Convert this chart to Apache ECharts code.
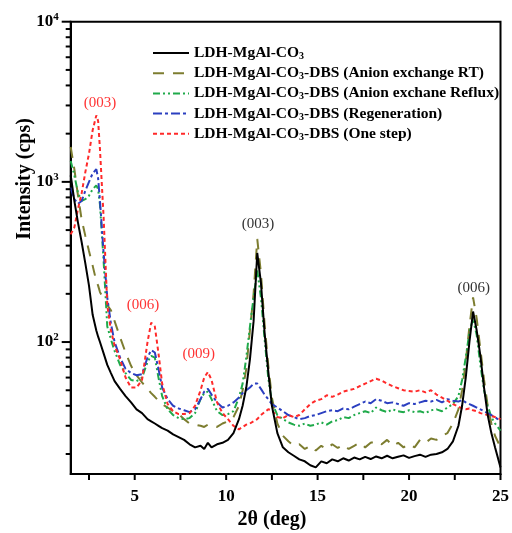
<!DOCTYPE html>
<html><head><meta charset="utf-8">
<script src="https://cdn.jsdelivr.net/npm/echarts@6/dist/echarts.min.js"></script>
<style>html,body{margin:0;padding:0;background:#fff}#c{width:512px;height:533px}</style>
</head><body><div id="c"></div>
<script>
const xs = [1.5,1.7,1.9,2.1,2.3,2.5,2.7,2.9,3.0,3.1,
3.3,3.5,3.7,3.9,4.2,4.5,4.8,5.1,5.4,5.7,
5.9,6.1,6.3,6.5,6.8,7.1,7.4,7.7,8.0,8.3,
8.6,8.8,9.0,9.2,9.5,9.8,10.1,10.4,10.7,10.9,
11.1,11.3,11.5,11.7,11.9,12.1,12.3,12.5,12.8,13.1,
13.4,13.7,14.0,14.3,14.6,14.9,15.2,15.5,15.8,16.1,
16.4,16.7,17.0,17.3,17.6,17.9,18.2,18.5,18.8,19.1,
19.4,19.7,20.0,20.3,20.6,20.9,21.2,21.5,21.8,22.1,
22.4,22.7,22.9,23.1,23.3,23.5,23.7,23.9,24.1,24.3,
24.5,24.7,25.0];

const black = [1100,760,555,420,310,225,148,118,108,100,
85,72,64,57,51,46,42,38,36,33,
32,31,30,29,28,26.5,25.5,24.5,23,22,
22.5,21.5,23.5,22,23,23.5,24.5,27,33,40,
52,78,135,360,235,115,66,40,27,22,
20.5,19.5,18.5,18,17,16.5,18,17.5,18.5,18,
18.8,18.2,19,18.5,19.2,18.6,19.3,18.8,19.5,18.8,
19.2,19.6,18.9,19.4,19.8,19.2,19.8,20,20.5,21.5,
24,30,40,60,100,155,118,82,52,35,
27,22,16.5];

const olive = [1650,1200,820,580,460,370,300,240,225,205,
185,170,158,135,107,86,71,62,56,51,
48,45.5,43,41,39,37,35.5,33,31,30.5,
30,29.5,30.5,30,29.5,31,32,34,40,50,
68,118,200,440,270,130,72,45,31,26,
24,22.5,23,21.5,22.5,21,22.5,21.5,23,21.8,
22.8,21.5,22.5,23.5,22,23.5,24,23,24.5,22.5,
23.5,22,23,22,24.5,23.5,25,24.5,26,27,
31,38,50,75,125,190,140,90,58,40,
31,26,22];

const green = [1350,1100,850,760,780,820,900,950,900,720,
320,125,104,88,72,64,58,57,60,75,
82,80,60,46,38,35,33.5,33,33.5,36,
44,48,49,44,37,35,35.5,37,45,55,
80,125,190,280,190,105,60,42,35,33,
31.5,30.5,30,31,30,30.5,31.5,30.5,32,32.5,
34,33.5,35,36,37,36,39,37.5,36.5,38,
37,36.5,37.5,36.5,37,36,37.5,38,37,39,
41,46,58,80,115,140,110,72,50,40,
34,31,28];

const blue = [920,780,730,760,880,1000,1130,1200,1050,760,
360,190,130,100,80,68,64,62,63,80,
89,86,68,52,44,40,38.5,37.5,36.5,38,
44,49,51,47,42,39,40,42,45,48,
50,52,55,55,51,47,44,41,39,37,
35,34,33,33.5,34.5,35,36,37,37.5,37,
38.5,38,39.5,41,42.5,41.5,44,43,41.5,42,
41,40,41.5,41,42,43,42.5,43.5,42,44,
43,42.5,43.5,42,41,40,39,38,37,36,
35,34,32];

const red = [470,520,680,850,1150,1500,2100,2600,2400,1600,
600,170,118,95,78,60,52,52,58,100,
132,125,85,55,41,37,35.5,35.5,36,40,
50,60,65,58,42,36,33,30,28.5,29.5,
30.5,31,32,33,35,36.5,38,37.5,34,33.5,
35,34,35,38,41,43,44,46.5,45.5,47,
49,50,51,53,55,57,59,57.5,55,53,
51.5,50,49.5,49,50,48.5,50,47,45,43,
41,39.5,38.5,38,38.5,37.5,37,36,35.5,35,
34.5,34,33];

const seriesNames = ['LDH-MgAl-CO3','LDH-MgAl-CO3-DBS (Anion exchange RT)','LDH-MgAl-CO3-DBS (Anion exchane Reflux)','LDH-MgAl-CO3-DBS (Regeneration)','LDH-MgAl-CO3-DBS (One step)'];

const yMajorTicks = [100, 1000, 10000];
const yMinorTicks = [20,30,40,50,60,70,80,90,200,300,400,500,600,700,800,900,2000,3000,4000,5000,6000,7000,8000,9000];
const xMajorTicks = [5,10,15,20,25];
const xMinorTicks = [2.5,7.5,12.5,17.5,22.5];

const annX = [3.1, 5.45, 8.5, 11.74, 23.54];
const annY = [3100, 171, 84, 545, 216];
const annText = ['(003)','(006)','(009)','(003)','(006)'];
const annColor = ['#ff3333','#ff3333','#ff3333','#333333','#333333'];

const XMIN = 1.5, XMAX = 25, YMIN = 15, YMAX = 10000;
const FONT = 'Liberation Serif';

const colors = ['#000000','#7d7d30','#1faa4a','#2b3fc0','#ff2a2a'];
const dashes = ['solid',[11,9],[7,3,2,3,2,3],[9,3,3,3],[4,3]];
const allY = [black, olive, green, blue, red];

const lineSeries = allY.map((ys, k) => ({
  name: seriesNames[k],
  type: 'line',
  data: xs.map((x, i) => [x, ys[i]]),
  showSymbol: false,
  symbol: 'none',
  z: k === 0 ? 3 : 2,
  lineStyle: {color: colors[k], width: 2, type: dashes[k]},
  itemStyle: {color: colors[k]}
}));

const tickData = [];
yMajorTicks.forEach(v => tickData.push([XMIN, v, 0, 9]));
yMinorTicks.forEach(v => tickData.push([XMIN, v, 0, 5]));
xMajorTicks.forEach(v => tickData.push([v, YMIN, 1, 6]));
xMinorTicks.forEach(v => tickData.push([v, YMIN, 1, 6]));

const tickSeries = {
  type: 'custom',
  silent: true,
  clip: false,
  data: tickData,
  renderItem: function (params, api) {
    const p = api.coord([api.value(0), api.value(1)]);
    const kind = api.value(2), len = api.value(3);
    const shape = kind === 0
      ? {x1: p[0] - len, y1: p[1], x2: p[0], y2: p[1]}
      : {x1: p[0], y1: p[1], x2: p[0], y2: p[1] + len};
    return {type: 'line', shape: shape, style: {stroke: '#000', lineWidth: 2}};
  },
  z: 20
};

const annSeries = {
  type: 'custom',
  silent: true,
  clip: false,
  data: annX.map((x, i) => [x, annY[i], i]),
  renderItem: function (params, api) {
    const p = api.coord([api.value(0), api.value(1)]);
    const i = api.value(2);
    return {type: 'text', x: p[0], y: p[1], style: {text: annText[i], fill: annColor[i], font: '15px "' + FONT + '"', align: 'center', verticalAlign: 'middle', textAlign: 'center', textVerticalAlign: 'middle'}};
  },
  z: 20
};

const chart = echarts.init(document.getElementById('c'), null, {renderer: 'canvas'});
chart.setOption({
  animation: false,
  backgroundColor: '#fff',
  grid: {left: 70.7, right: 11.2, top: 21.7, bottom: 59, show: true, borderColor: '#000', borderWidth: 2, backgroundColor: 'transparent'},
  legend: {
    orient: 'vertical', left: 147, top: 40,
    itemWidth: 36, itemHeight: 14, itemGap: 3.7,
    data: seriesNames,
    itemStyle: {opacity: 0},
    formatter: n => n.replace('CO3', 'CO{sub|3}'),
    textStyle: {fontFamily: FONT, fontWeight: 'bold', fontSize: 15.5, color: '#000',
      rich: {sub: {fontFamily: FONT, fontWeight: 'bold', fontSize: 10, color: '#000', verticalAlign: 'bottom', padding: [7, 0, 0, 0]}}}
  },
  xAxis: {
    type: 'value', min: XMIN, max: XMAX, splitNumber: 5,
    axisLine: {show: true, lineStyle: {color: '#000', width: 2}},
    axisTick: {show: false},
    splitLine: {show: false},
    axisLabel: {showMinLabel: false, margin: 14, fontFamily: FONT, fontWeight: 'bold', fontSize: 17, color: '#000',
      formatter: v => (Math.abs(v % 5) < 1e-9 ? String(v) : '')}
  },
  yAxis: {
    type: 'log', logBase: 10, min: YMIN, max: YMAX,
    axisLine: {show: true, lineStyle: {color: '#000', width: 2}},
    axisTick: {show: false},
    splitLine: {show: false},
    minorTick: {show: false},
    axisLabel: {margin: 12, fontFamily: FONT, fontWeight: 'bold', fontSize: 17, color: '#000',
      formatter: function (v) {
        const e = Math.round(Math.log10(v));
        if (Math.abs(Math.pow(10, e) - v) > 1e-6 * v) return '';
        return '10{sup|' + e + '}';
      },
      rich: {sup: {fontFamily: FONT, fontWeight: 'bold', fontSize: 11, color: '#000', verticalAlign: 'top', padding: [0, 0, 10, 0]}}
    }
  },
  graphic: [
    {type: 'text', x: 25, y: 179, rotation: Math.PI / 2, style: {text: 'Intensity (cps)', font: 'bold 20px "' + FONT + '"', fill: '#000', align: 'center', verticalAlign: 'middle'}},
    {type: 'text', x: 272, y: 520, style: {text: '2θ (deg)', font: 'bold 20px "' + FONT + '"', fill: '#000', align: 'center', verticalAlign: 'middle'}}
  ],
  series: lineSeries.concat([tickSeries, annSeries])
});
</script>
</body></html>
